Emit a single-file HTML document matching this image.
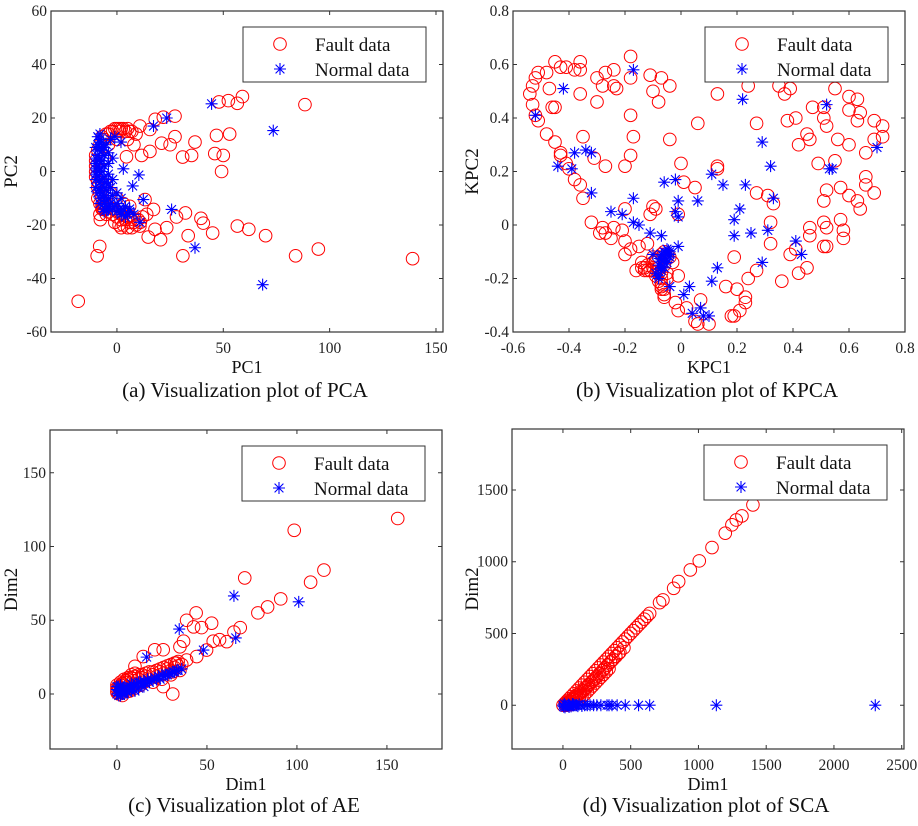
<!DOCTYPE html>
<html><head><meta charset="utf-8">
<style>
html,body{margin:0;padding:0;background:#fff;}
svg{display:block;font-family:"Liberation Serif",serif;}
</style></head>
<body>
<svg id="fig" width="918" height="826" viewBox="0 0 918 826" xmlns="http://www.w3.org/2000/svg"></svg>
<script>
// ===== Panel (a) PCA =====
const pcaFaultX=[-18.2,139,94.7,84,88.4,59,52.4,56.6,48,53,46.8,46,50,49.2,36.7,35.1,30.9,27.3,21.8,18,10.8,15.5,27.3,21,25,11.6,15.5,4.5,1.4,6,56.6,62,69.9,45,40.6,39.5,33.5,31,32.2,28,23.4,20.5,14.7,17.9,10.8,13.2,17.2,2,-8.1,-9.3,-7.8,-6.5,6,-8,-9,-10,-10,-10,-10,-10,-9,-9,-8,-7,-6,-4,-2,0,-6,-4,-2,0,2,4,-7,-5,2,5,8,-8,-5,-3,0,3,6,-6,-4,0,5,8,-7,-5,-3,-1,1,3,5,7,9,-9,-8,-7,-6,-4,-2,0,2,4,6,8,10,12,14,-1,1,3,5,7,9,11];
const pcaFaultY=[-48.5,-32.6,-29,-31.5,25,28,26.5,25.5,26,14,13.5,6.7,6,0,11,6,5.4,20.7,20.3,19.5,17,15.7,13,10.6,10,6,7.5,5.5,15,15,-20.4,-21.6,-24,-23,-19.3,-17.5,-24,-31.5,-15.5,-17,-21,-25.5,-24.5,-21.6,-20.4,-10.5,-14.2,-21,-28,-31.5,-18,-14.2,-16.7,10,8,6,4,2,0,-2,-4,-6,-8,-10,-12,-13,-14,-15,12,14,15,16,16,15,-14,-16,-16,-17,-18,-16,-5,-8,-10,-12,-13,5,10,12,12,10,13,14,15,16,16,16,16,15,14,-10,-12,-13,-14,-15,-16,-17,-18,-18,-19,-19,-18,-17,-16,-19,-20,-20,-21,-21,-20,-19];
const pcaNormX=[44.5,73.5,68.5,36.7,25.7,17.2,23.4,1.9,3,10.3,7.4,-4.8,3,10.8,12.4,6,-8,-9,-9,-9,-9,-9,-9,-9,-8,-8,-7,-6,-5,-3,-1,1,-7,-7,-6,-5,-7,-5,-3,-1,-8,-4,2,5,-6,-6,-10,-10,-10,-10,-10,-10,-10,-8,-8,-8,-8,-8,-8,-8,-8,-6,-6,-6,-6,-6,-6,-6,-4,-4,-4,-4,-4,-4,-2,-2,-2,-2,0,0,0,2,2,4,4,6,8,-5,-3,-7,-9,-9];
const pcaNormY=[25.3,15.3,-42.3,-28.5,-14.2,17,20,11,1,-1.3,-5.4,-14.5,-14,-19,-10.5,-15,12,10,8,6,4,2,0,-2,-4,-6,-8,-10,-11,-12,-13,-14,4,0,-4,-7,8,10,12,13,-12,-14,-15,-16,2,-2,9,5,1,-3,-6,3,-1,14,9,5,1,-3,-7,-10,11,6,9,-6,-9,-12,-14,-15,7,3,-1,-5,-10,-13,5,-3,-9,-14,-8,-12,-15,-10,-16,-13,-17,-14,-16,-4,-6,11,13,-8];
const pcaXTicks=[0,50,100,150];
const pcaYTicks=[-60,-40,-20,0,20,40,60];

// ===== Panel (b) KPCA =====
const kpcaFaultX=[-0.54,-0.53,-0.52,-0.51,-0.53,-0.52,-0.51,-0.48,-0.45,-0.43,-0.41,-0.38,-0.36,-0.36,-0.47,-0.46,-0.45,-0.48,-0.45,-0.43,-0.43,-0.41,-0.40,-0.38,-0.36,-0.35,-0.35,-0.36,-0.30,-0.30,-0.27,-0.28,-0.24,-0.24,-0.23,-0.18,-0.18,-0.11,-0.07,-0.04,-0.10,-0.08,-0.18,-0.17,-0.18,-0.20,-0.27,-0.31,-0.04,0.06,0,0.01,0.05,0.13,0.24,0.27,0.13,0.13,0.27,0.31,0.33,0.32,0.32,0.19,0.16,0.20,0.23,0.23,0.21,0.18,0.19,0.27,0.24,0.36,0.39,0.41,0.42,0.45,0.38,0.41,0.35,0.37,0.39,0.45,0.46,0.42,0.47,0.51,0.52,0.51,0.55,0.60,0.63,0.60,0.64,0.63,0.69,0.72,0.69,0.72,0.60,0.56,0.66,0.49,0.55,0.57,0.60,0.66,0.66,0.69,0.63,0.64,0.52,0.51,0.46,0.46,0.51,0.52,0.57,0.58,0.58,0.51,0.52,-0.32,-0.28,-0.27,-0.25,-0.24,-0.21,-0.20,-0.20,-0.18,-0.15,-0.12,-0.10,-0.09,-0.11,-0.01,-0.14,-0.13,-0.11,-0.07,-0.06,-0.02,-0.01,0.02,0.05,0.06,0.10,0.07,-0.01,-0.20,-0.29,-0.10,-0.09,-0.08,-0.08,-0.07,-0.07,-0.06,-0.06,-0.05,-0.06,-0.07,-0.08,-0.09,-0.10,-0.11,-0.12,-0.13,-0.07,-0.05,-0.08,-0.09,-0.07,-0.06,-0.04,-0.03,-0.05,-0.10,-0.12,-0.14,-0.16];
const kpcaFaultY=[0.49,0.45,0.41,0.39,0.52,0.55,0.57,0.57,0.61,0.59,0.59,0.58,0.61,0.58,0.51,0.44,0.44,0.34,0.31,0.27,0.26,0.23,0.21,0.17,0.15,0.10,0.33,0.49,0.46,0.55,0.57,0.52,0.58,0.52,0.51,0.63,0.55,0.56,0.55,0.52,0.50,0.46,0.41,0.33,0.26,0.22,0.22,0.25,0.32,0.38,0.23,0.16,0.14,0.49,0.52,0.38,0.22,0.21,0.12,0.11,0.08,0.01,-0.07,-0.12,-0.23,-0.24,-0.27,-0.29,-0.32,-0.34,-0.34,-0.17,-0.20,-0.21,-0.11,-0.09,-0.18,-0.16,0.39,0.40,0.52,0.49,0.51,0.34,0.32,0.30,0.44,0.40,0.37,0.44,0.51,0.48,0.47,0.43,0.42,0.39,0.39,0.37,0.32,0.33,0.30,0.32,0.27,0.23,0.24,0.14,0.11,0.18,0.15,0.12,0.09,0.06,0.13,0.09,-0.01,-0.04,0.01,-0.01,0.02,-0.02,-0.05,-0.08,-0.08,0.01,-0.01,-0.03,-0.05,-0.01,-0.02,-0.06,-0.11,-0.09,-0.08,-0.07,0.07,0.06,0.04,0.04,-0.14,-0.17,-0.17,-0.24,-0.27,-0.29,-0.32,-0.31,-0.36,-0.37,-0.37,-0.28,-0.19,0.06,-0.03,-0.12,-0.14,-0.16,-0.18,-0.20,-0.22,-0.24,-0.15,-0.12,-0.10,-0.11,-0.12,-0.13,-0.16,-0.17,-0.17,-0.16,-0.18,-0.18,-0.21,-0.19,-0.23,-0.26,-0.12,-0.14,-0.20,-0.14,-0.15,-0.16,-0.17];
const kpcaNormX=[-0.52,-0.44,-0.42,-0.38,-0.39,-0.34,-0.32,-0.32,-0.25,-0.21,-0.17,-0.17,-0.17,-0.15,-0.11,-0.10,-0.07,-0.06,-0.02,-0.02,-0.01,-0.01,-0.01,0.01,0.03,0.04,0.06,0.07,0.08,0.10,0.11,0.13,0.11,0.15,0.19,0.21,0.19,0.23,0.25,0.29,0.31,0.29,0.32,0.33,0.41,0.43,0.22,0.52,0.53,0.54,0.70,-0.04,-0.07,-0.05,-0.05,-0.06,-0.06,-0.07,-0.07,-0.08,-0.08,-0.04,-0.04,-0.05,-0.06,-0.07,-0.045,-0.055,-0.065,-0.075,-0.05,-0.06,-0.07,-0.04,-0.08,-0.09];
const kpcaNormY=[0.41,0.22,0.51,0.27,0.21,0.28,0.27,0.12,0.05,0.04,0.01,0.10,0.58,0,-0.03,-0.11,-0.04,0.16,0.17,0.05,0.09,0.03,-0.08,-0.26,-0.23,-0.33,0.09,-0.31,-0.34,-0.34,0.19,-0.16,-0.21,0.15,0.02,0.06,-0.04,0.15,-0.03,0.31,-0.02,-0.14,0.22,0.10,-0.06,-0.11,0.47,0.45,0.21,0.21,0.29,-0.23,-0.16,-0.09,-0.11,-0.12,-0.14,-0.15,-0.17,-0.19,-0.20,-0.10,-0.12,-0.14,-0.16,-0.13,-0.095,-0.105,-0.115,-0.125,-0.13,-0.10,-0.11,-0.11,-0.15,-0.18];
const kpcaXTicks=[-0.6,-0.4,-0.2,0,0.2,0.4,0.6,0.8];
const kpcaXLabels=["-0.6","-0.4","-0.2","0","0.2","0.4","0.6","0.8"];
const kpcaYTicks=[-0.4,-0.2,0,0.2,0.4,0.6,0.8];
const kpcaYLabels=["-0.4","-0.2","0","0.2","0.4","0.6","0.8"];

// ===== Panel (c) AE =====
const aeFaultX=[156,98.5,115,107.6,91,83.7,78.3,71,68.5,65,61,44,38.7,52.6,47,42.6,37,35,49.8,53.5,57,38.7,44.3,33,31,25.7,21,14.6,10,31,25.7,0,1,2,3,4,5,6,7,8,9,10,11,12,13,14,15,16,18,20,22,24,26,28,30,32,34,36,0,2,4,6,8,10,3,1,20,25,30,35,0,1,2,3,4,5,6,8,10,12,14,16,18,20,22,24,26,28,30,32,34,0,2,4,6,8];
const aeFaultY=[119,111,84,75.8,64.5,59,55,78.7,45,42,35.5,55,50,48,45,45.5,35.8,32,29.8,35.8,36.8,23,25.4,21,15,30,30,25.4,18.8,0,5,2,0,4,1,6,3,8,2,5,9,4,7,10,6,11,8,12,10,13,12,15,14,17,16,18,19,20,6,8,10,11,13,14,-1,4,8,10,13,16,4,5,6,7,8,9,10,11,12,13,13,14,15,15,16,17,18,19,20,21,22,1,2,3,2,4];
const aeNormX=[65,101,34.6,66,48,16.5,0,1,2,3,4,5,6,7,8,9,10,12,14,16,18,20,22,24,26,28,30,32,34,36,1,3,6,10,15,2,4,8,12,0,1,2,3,5,7,9,11,13,15,17,19,21,23,25,27,29,31,33,2,4,6,0];
const aeNormY=[66.5,62.5,44,38,29.8,25,0,2,1,3,1,2,4,3,2,4,5,4,6,7,8,9,10,10,12,13,14,15,16,17,-1,0,1,2,5,5,4,7,8,3,5,6,2,4,5,6,7,8,9,10,10,11,12,13,13,14,15,16,-1,0,3,5];
const aeXTicks=[0,50,100,150];
const aeYTicks=[0,50,100,150];

// ===== Panel (d) SCA =====
const scaFaultX=[0,15,30,45,60,80,100,120,140,160,180,200,220,240,260,280,300,320,340,360,380,400,420,440,460,480,500,520,540,560,580,600,620,640,20,40,60,80,100,120,150,180,210,240,270,300,330,360,390,420,450,30,60,90,713,738,817,854,940,1006,1100,1198,1247,1279,1321,1402,50,70,90,110,130,150,170,190,210,230,250,270,290,310,330,350,370,390,410,80,100,120,140,160,180,200,220,240,260,280,300,320,340,20,40,70,100,130,160,190,220];
const scaFaultY=[0,15,30,45,60,80,100,120,140,160,180,200,220,240,260,280,300,320,340,360,380,400,420,440,460,480,500,520,540,560,580,600,620,640,0,10,20,40,60,75,100,130,160,190,220,250,280,310,340,370,400,0,5,50,715,734,815,862,943,1006,1099,1199,1257,1291,1319,1396,25,40,55,70,85,100,120,140,160,180,200,220,240,260,280,300,320,340,360,10,30,45,60,75,95,115,135,155,175,195,215,235,255,10,25,45,70,95,120,145,170];
const scaNormX=[0,5,10,20,30,40,50,60,70,80,90,100,120,140,160,180,200,226,250,280,325,340,362,400,460,558,640,1132,2305,15,45,75,110];
const scaNormY=[0,-10,10,0,-5,5,0,-8,8,0,0,0,5,-5,0,0,0,0,0,0,0,0,0,0,0,0,0,0,0,-15,-12,8,-6];
const scaXTicks=[0,500,1000,1500,2000,2500];
const scaYTicks=[0,500,1000,1500];

const NS="http://www.w3.org/2000/svg";
const svg=document.getElementById('fig');
function mk(tag,attrs,parent){const e=document.createElementNS(NS,tag);for(const k in attrs)e.setAttribute(k,attrs[k]);(parent||svg).appendChild(e);return e;}
function linScale(d0,d1,r0,r1){return v=>r0+(v-d0)/(d1-d0)*(r1-r0);}

function circle(g,x,y){
  const c=mk('circle',{cx:x,cy:y,r:6.3,fill:'none',stroke:'#f00','stroke-width':1},g);
  
  
}
function star(g,x,y){
  const s=6;const d=4.4;
  const p=mk('path',{d:`M${x-s},${y}H${x+s}M${x},${y-s}V${y+s}M${x-d},${y-d}L${x+d},${y+d}M${x-d},${y+d}L${x+d},${y-d}`,stroke:'#0000ff','stroke-width':1.1,fill:'none'},g);
  
  
}

function panel(cfg){
  const g=mk('g',{});
  
  
  const {L,T,R,B}=cfg;
  const sx=linScale(cfg.xd[0],cfg.xd[1],L,R);
  const sy=linScale(cfg.yd[0],cfg.yd[1],B,T);
  const clip=mk('clipPath',{id:cfg.name+'-clip'},g);
  mk('rect',{x:L,y:T,width:R-L,height:B-T},clip);
  const pts=mk('g',{'clip-path':`url(#${cfg.name}-clip)`},g);
  
  
  cfg.fx.forEach((v,i)=>circle(pts,sx(v),sy(cfg.fy[i])));
  cfg.nx.forEach((v,i)=>star(pts,sx(v),sy(cfg.ny[i])));
  const box=mk('rect',{x:L,y:T,width:R-L,height:B-T,fill:'none',stroke:'#333','stroke-width':1.2},g);
  
  
  cfg.xt.forEach((v,i)=>{
    const x=sx(v);
    mk('path',{d:`M${x},${B}v-4M${x},${T}v4`,stroke:'#333','stroke-width':1},g);
    const t=mk('text',{x:x,y:B+21,'font-size':15.5,'text-anchor':'middle',fill:'#222'},g);
    t.textContent=cfg.xl?cfg.xl[i]:String(v);
    
    
  });
  cfg.yt.forEach((v,i)=>{
    const y=sy(v);
    mk('path',{d:`M${L},${y}h4M${R},${y}h-4`,stroke:'#333','stroke-width':1},g);
    const t=mk('text',{x:L-4,y:y+5,'font-size':15.5,'text-anchor':'end',fill:'#222'},g);
    t.textContent=cfg.yl?cfg.yl[i]:String(v);
    
    
  });
  const xt=mk('text',{x:(L+R)/2,y:B+41,'font-size':18,'text-anchor':'middle',fill:'#111'},g);
  xt.textContent=cfg.xTitle;
  
  
  const ty=(T+B)/2;
  const yt=mk('text',{x:cfg.yTitleX,y:ty,'font-size':19,'text-anchor':'middle',fill:'#111',transform:`rotate(-90 ${cfg.yTitleX} ${ty})`},g);
  yt.textContent=cfg.yTitle;
  
  
  const cap=mk('text',{x:(L+R)/2-2,y:cfg.capY,'font-size':21,'text-anchor':'middle',fill:'#111'},g);
  cap.textContent=cfg.caption;
  
  
  const lg=mk('g',{},g);
  
  
  const lx=R-200,ly=T+16;
  mk('rect',{x:lx,y:ly,width:183,height:55,fill:'#fff',stroke:'#333','stroke-width':1},lg);
  circle(lg,lx+37,ly+17);
  star(lg,lx+37,ly+42);
  const t1=mk('text',{x:lx+72,y:ly+24,'font-size':19,fill:'#111'},lg);
  t1.textContent='Fault data';
  
  
  const t2=mk('text',{x:lx+72,y:ly+49,'font-size':19,fill:'#111'},lg);
  t2.textContent='Normal data';
  
  
}

panel({name:'panel-pca',L:51,T:11,R:443,B:332,xd:[-31,153.3],yd:[-60,60],fx:pcaFaultX,fy:pcaFaultY,nx:pcaNormX,ny:pcaNormY,xt:pcaXTicks,yt:pcaYTicks,xTitle:'PC1',yTitle:'PC2',yTitleX:17,capY:397,caption:'(a) Visualization plot of PCA'});
panel({name:'panel-kpca',L:513,T:11,R:905,B:332,xd:[-0.6,0.8],yd:[-0.4,0.8],fx:kpcaFaultX,fy:kpcaFaultY,nx:kpcaNormX,ny:kpcaNormY,xt:kpcaXTicks,xl:kpcaXLabels,yt:kpcaYTicks,yl:kpcaYLabels,xTitle:'KPC1',yTitle:'KPC2',yTitleX:478,capY:397,caption:'(b) Visualization plot of KPCA'});
panel({name:'panel-ae',L:50,T:430,R:442,B:749,xd:[-37.2,180.6],yd:[-37.3,179],fx:aeFaultX,fy:aeFaultY,nx:aeNormX,ny:aeNormY,xt:aeXTicks,yt:aeYTicks,xTitle:'Dim1',yTitle:'Dim2',yTitleX:17,capY:812,caption:'(c) Visualization plot of AE'});
panel({name:'panel-sca',L:512,T:429,R:904,B:749,xd:[-376,2517],yd:[-305,1925],fx:scaFaultX,fy:scaFaultY,nx:scaNormX,ny:scaNormY,xt:scaXTicks,yt:scaYTicks,xTitle:'Dim1',yTitle:'Dim2',yTitleX:478,capY:812,caption:'(d) Visualization plot of SCA'});
</script>
</body></html>
